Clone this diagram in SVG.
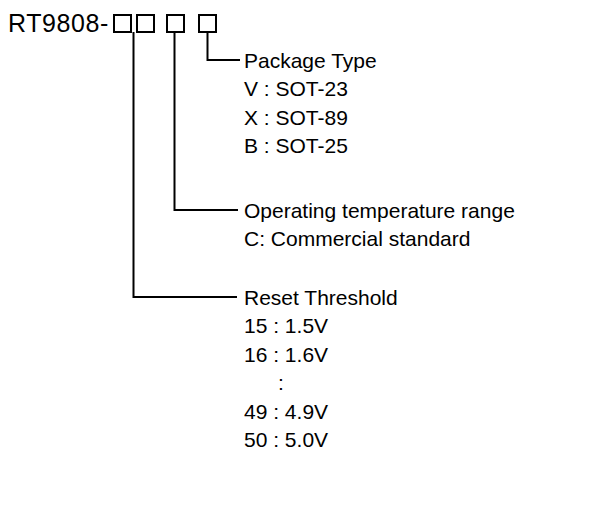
<svg xmlns="http://www.w3.org/2000/svg" width="589" height="511" viewBox="0 0 589 511">
<style>
text{font-family:"Liberation Sans",Arial,sans-serif;font-size:21px;fill:#000}
text.title{font-size:25px;letter-spacing:0.6px}
.ln{fill:none;stroke:#000;stroke-width:2}
.bx{fill:none;stroke:#000;stroke-width:2}
</style>
<rect width="589" height="511" fill="#fff"/>
<g id="part-number">
<text class="title" x="8" y="32">RT9808-</text>
<rect class="bx" x="114" y="15" width="17" height="17"/>
<rect class="bx" x="137" y="15" width="17" height="17"/>
<rect class="bx" x="167" y="15" width="17" height="17"/>
<rect class="bx" x="199" y="15" width="17" height="17"/>
</g>
<g id="connectors">
<polyline class="ln" points="207.5,32 207.5,60 240,60"/>
<polyline class="ln" points="174.5,32 174.5,210 238,210"/>
<polyline class="ln" points="133.5,32 133.5,297 237,297"/>
</g>
<g id="package-type">
<text x="244" y="67.5">Package Type</text>
<text x="244" y="96">V : SOT-23</text>
<text x="244" y="124.5">X : SOT-89</text>
<text x="244" y="153">B : SOT-25</text>
</g>
<g id="temperature-range">
<text x="244" y="217.5">Operating temperature range</text>
<text x="244" y="246">C: Commercial standard</text>
</g>
<g id="reset-threshold">
<text x="244" y="304.5">Reset Threshold</text>
<text x="244" y="333">15 : 1.5V</text>
<text x="244" y="361.5">16 : 1.6V</text>
<text x="278" y="390">:</text>
<text x="244" y="418.5">49 : 4.9V</text>
<text x="244" y="447">50 : 5.0V</text>
</g>
</svg>
